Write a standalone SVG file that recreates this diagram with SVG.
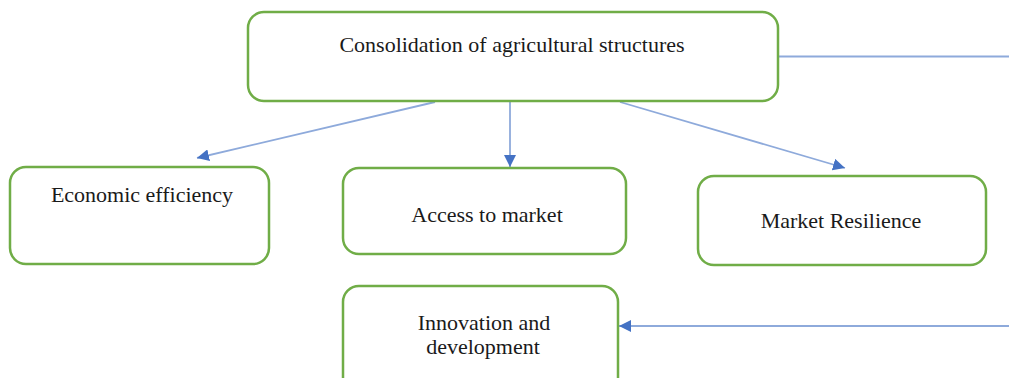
<svg xmlns="http://www.w3.org/2000/svg" width="1009" height="378" viewBox="0 0 1009 378">
  <defs>
    <style>
      .box { fill: #ffffff; stroke: #70ad47; stroke-width: 2.5; }
      .label { font-family: "Liberation Serif", "Times New Roman", serif; font-size: 22px; fill: #1a1a1a; text-anchor: middle; }
      .link { fill: none; stroke: #8eaadb; stroke-width: 1.8; }
    </style>
    <marker id="arrow" viewBox="0 0 10 10" refX="10" refY="5" markerWidth="6.5" markerHeight="6.5" markerUnits="userSpaceOnUse" orient="auto">
      <path d="M0,0 L10,5 L0,10 z" fill="#4472c4"/>
    </marker>
    <marker id="arrowLg" viewBox="0 0 10 10" refX="10" refY="5" markerWidth="12" markerHeight="12" markerUnits="userSpaceOnUse" orient="auto">
      <path d="M0,0 L10,5 L0,10 z" fill="#4472c4"/>
    </marker>
  </defs>

  <rect width="1009" height="378" fill="#ffffff"/>

  <!-- connectors -->
  <g id="connectors">
    <line class="link" x1="778" y1="56.5" x2="1009" y2="56.5"/>
    <line class="link" x1="435" y1="102" x2="197" y2="158" marker-end="url(#arrowLg)"/>
    <line class="link" x1="510" y1="102" x2="510" y2="167" marker-end="url(#arrowLg)"/>
    <line class="link" x1="620" y1="102" x2="845" y2="168" marker-end="url(#arrowLg)"/>
    <line class="link" x1="1009" y1="326" x2="619" y2="326" marker-end="url(#arrowLg)"/>
  </g>

  <!-- nodes -->
  <g id="consolidation">
    <rect class="box" x="248" y="12" width="530" height="89" rx="16"/>
    <text class="label" x="512" y="52">Consolidation of agricultural structures</text>
  </g>

  <g id="economic-efficiency">
    <rect class="box" x="10" y="167" width="259" height="97" rx="16"/>
    <text class="label" x="142" y="202">Economic efficiency</text>
  </g>

  <g id="access-to-market">
    <rect class="box" x="343" y="168" width="283" height="86" rx="16"/>
    <text class="label" x="487" y="222">Access to market</text>
  </g>

  <g id="market-resilience">
    <rect class="box" x="698" y="176" width="288" height="89" rx="16"/>
    <text class="label" x="841" y="228">Market Resilience</text>
  </g>

  <g id="innovation">
    <rect class="box" x="343" y="286" width="275" height="110" rx="16"/>
    <text class="label" x="484" y="330">Innovation and</text>
    <text class="label" x="483" y="354">development</text>
  </g>
</svg>
